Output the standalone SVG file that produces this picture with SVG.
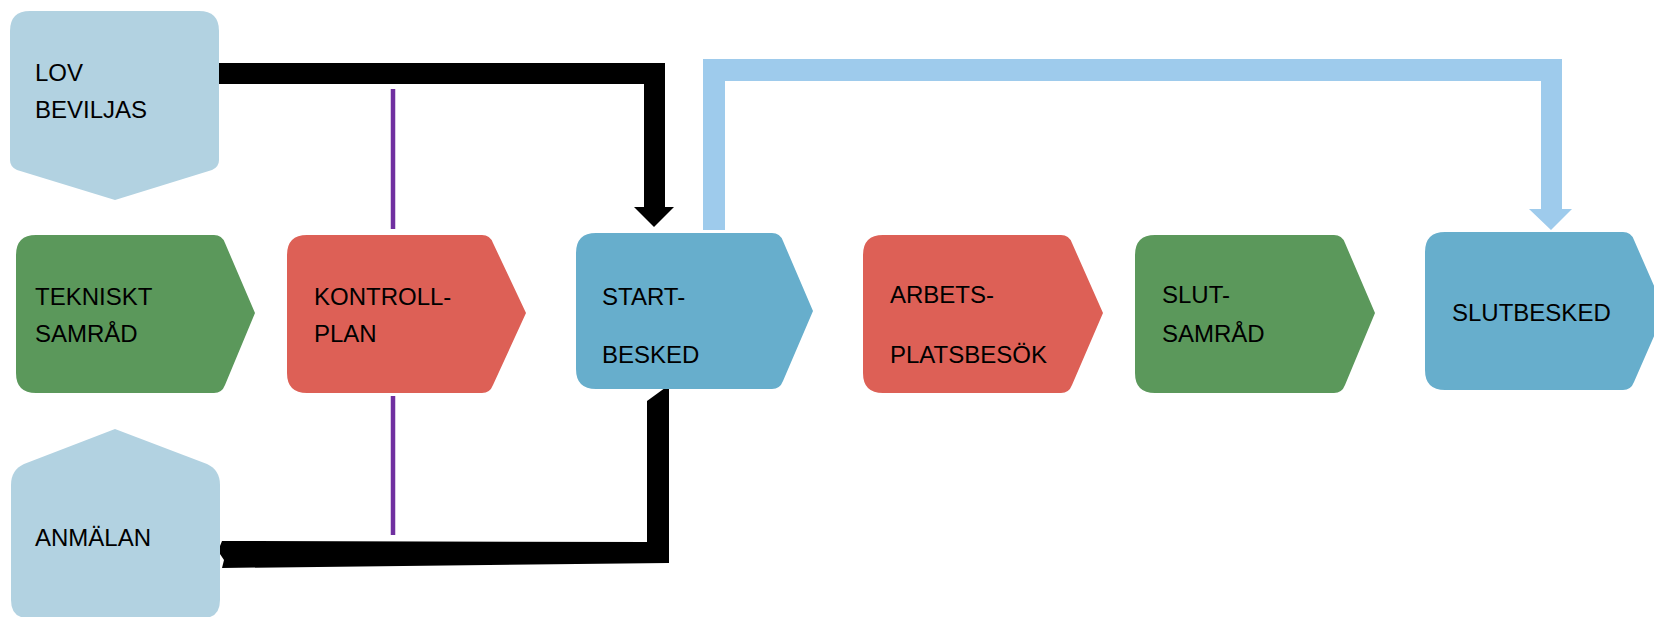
<svg xmlns="http://www.w3.org/2000/svg" width="1654" height="617" viewBox="0 0 1654 617">
<style>
text{font-family:"Liberation Sans",Arial,sans-serif;font-size:24px;fill:#000}
.green{fill:#5B985B}
.red{fill:#DD6056}
.blue{fill:#67AECC}
.pale{fill:#B2D2E1}
.purple{stroke:#7030A0;stroke-width:4.5;fill:none}
</style>
<rect width="1654" height="617" fill="#fff"/>
<g id="connectors">
<polygon fill="#000" points="219,63 665,63 665,207 674,207 654,227 634,207 644,207 644,84 219,84"/>
<polygon fill="#9ECBEC" points="703,59 1562,59 1562,209 1572,209 1551,230 1529,209 1541,209 1541,81 725,81 725,230 703,230"/>
<polygon fill="#000" points="647,401 669,385 669,563 222,568 224,560 218,551 222,541 647,542"/>
<line class="purple" x1="393" y1="89" x2="393" y2="229"/>
<line class="purple" x1="393" y1="396" x2="393" y2="535"/>
</g>
<g id="lov">
<path class="pale" d="M30,11 H199 Q219,11 219,31 V160 Q219,167 212,170 L115,200 L17,170 Q10,167 10,160 V31 Q10,11 30,11 Z"/>
<text x="35" y="81">LOV</text>
<text x="35" y="118">BEVILJAS</text>
</g>
<g id="anmalan">
<path class="pale" d="M115,429 L207,464 Q220,470 220,485 V600 Q220,618 203,618 H28 Q11,618 11,600 V485 Q11,470 24,464 Z"/>
<text x="35" y="546">ANMÄLAN</text>
</g>
<g id="tekniskt">
<path class="green" d="M36,235 H214 Q222,235 225,243 L255,313 L225,385 Q222,393 214,393 H36 Q16,393 16,373 V255 Q16,235 36,235 Z"/>
<text x="35" y="305">TEKNISKT</text>
<text x="35" y="342">SAMRÅD</text>
</g>
<g id="kontrollplan">
<path class="red" d="M307,235 H482 Q490,235 493,243 L526,313 L493,385 Q490,393 482,393 H307 Q287,393 287,373 V255 Q287,235 307,235 Z"/>
<text x="314" y="305">KONTROLL-</text>
<text x="314" y="342">PLAN</text>
</g>
<g id="startbesked">
<path class="blue" d="M596,233 H772 Q780,233 783,241 L813,311 L783,381 Q780,389 772,389 H596 Q576,389 576,369 V253 Q576,233 596,233 Z"/>
<text x="602" y="305">START-</text>
<text x="602" y="363">BESKED</text>
</g>
<g id="arbetsplatsbesok">
<path class="red" d="M883,235 H1061 Q1069,235 1072,243 L1103,313 L1072,385 Q1069,393 1061,393 H883 Q863,393 863,373 V255 Q863,235 883,235 Z"/>
<text x="890" y="303">ARBETS-</text>
<text x="890" y="363">PLATSBESÖK</text>
</g>
<g id="slutsamrad">
<path class="green" d="M1155,235 H1334 Q1342,235 1345,243 L1375,313 L1345,385 Q1342,393 1334,393 H1155 Q1135,393 1135,373 V255 Q1135,235 1155,235 Z"/>
<text x="1162" y="303">SLUT-</text>
<text x="1162" y="342">SAMRÅD</text>
</g>
<g id="slutbesked">
<path class="blue" d="M1445,232 H1623 Q1631,232 1634,240 L1665,311 L1634,382 Q1631,390 1623,390 H1445 Q1425,390 1425,370 V252 Q1425,232 1445,232 Z"/>
<text x="1452" y="321">SLUTBESKED</text>
</g>
</svg>
